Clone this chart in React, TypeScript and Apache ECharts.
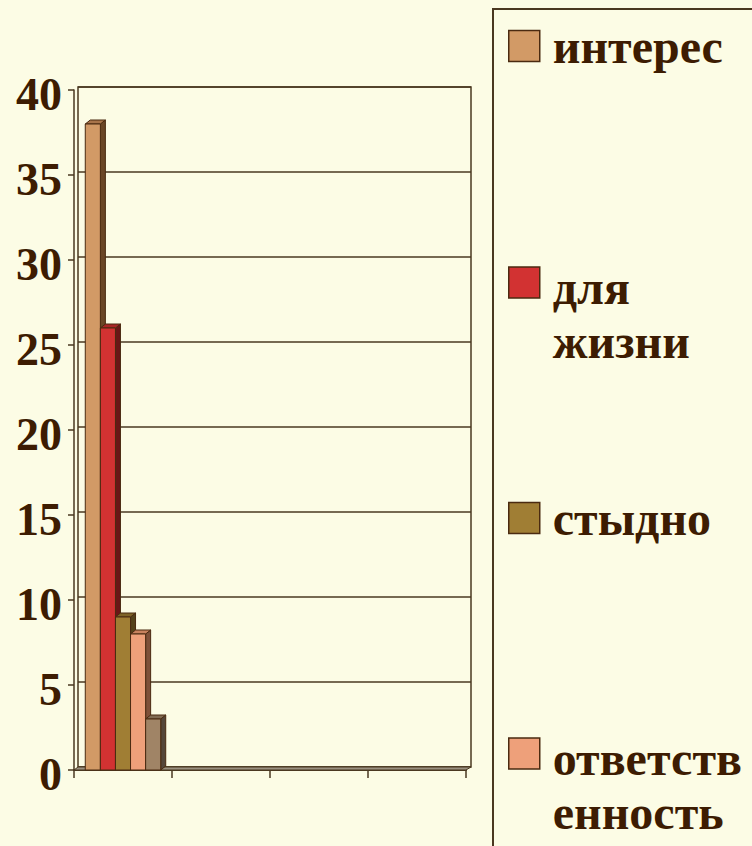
import React, { useEffect, useRef } from "react";
import * as echarts from "echarts";

const categories = ["1", "2", "3", "4"];
const seriesNames = ["интерес", "для жизни", "стыдно", "ответственность", "другое"];
const values = [38, 26, 9, 8, 3];
const yTicks = [0, 5, 10, 15, 20, 25, 30, 35, 40];

const frontColors = ["#D29A66", "#D23232", "#A07E34", "#EEA07A", "#A08466"];
const topColors = ["#A8744A", "#A82626", "#7E6428", "#C8825E", "#806A52"];
const sideColors = ["#6A4626", "#6A1616", "#54421A", "#7E5038", "#54463A"];

const BG = "#FCFCE5";
const LINE = "#4A3820";
const TEXT = "#3D1C02";
const EDGE = "#4A2A10";
const DX = 5;
const DY = 4;

export default function App() {
  const ref = useRef<HTMLDivElement>(null);
  useEffect(() => {
    if (!ref.current) return;
    const chart = echarts.init(ref.current, null, { renderer: "svg" });
    const nSeries = seriesNames.length;

    const renderItem = (params: any, api: any) => {
      const idx = params.seriesIndex;
      const v = api.value(1);
      const cat = api.value(0);
      const base = api.coord([cat, 0]);
      const top = api.coord([cat, v]);
      const catW = api.size([1, 0])[0];
      const groupW = catW * 0.77;
      const barW = groupW / nSeries;
      const x0 = base[0] - groupW / 2 + idx * barW;
      const x1 = x0 + barW;
      const yb = base[1];
      const yt = top[1];
      return {
        type: "group",
        children: [
          {
            type: "polygon",
            shape: { points: [[x1, yt], [x1 + DX, yt - DY], [x1 + DX, yb - DY], [x1, yb]] },
            style: { fill: sideColors[idx], stroke: EDGE, lineWidth: 1 },
          },
          {
            type: "polygon",
            shape: { points: [[x0, yt], [x0 + DX, yt - DY], [x1 + DX, yt - DY], [x1, yt]] },
            style: { fill: topColors[idx], stroke: EDGE, lineWidth: 1 },
          },
          {
            type: "rect",
            shape: { x: x0, y: yt, width: barW, height: yb - yt },
            style: { fill: frontColors[idx], stroke: EDGE, lineWidth: 1 },
          },
        ],
      };
    };

    const fontBase = {
      fontFamily: "Liberation Serif",
      fontWeight: "bold" as const,
      fontSize: 48,
      color: TEXT,
    };

    const twoLine: Record<string, [string, string]> = {
      "для жизни": ["для", "жизни"],
      "ответственность": ["ответств", "енность"],
    };

    const legendItem = (name: string, top: number) => ({
      show: true,
      orient: "vertical",
      left: 508,
      top,
      padding: 0,
      itemWidth: 31,
      itemHeight: 31,
      selectedMode: false,
      icon: "rect",
      itemStyle: { borderColor: EDGE, borderWidth: 1.5 },
      data: [name],
      formatter: (n: string) =>
        twoLine[n] ? `{e| }\n{t|${twoLine[n][0]}}\n{t|${twoLine[n][1]}}` : `{s|${n}}`,
      textStyle: {
        ...fontBase,
        padding: [0, 0, 0, 8],
        rich: {
          e: { ...fontBase, fontSize: 10, lineHeight: 64 },
          t: { ...fontBase, lineHeight: 54 },
          s: { ...fontBase, lineHeight: 58 },
        },
      },
    });

    chart.setOption({
      animation: false,
      backgroundColor: BG,
      grid: [
        { left: 74, top: 90, width: 392, height: 680, show: false },
        { left: 78, top: 87, width: 393, height: 680, show: true, borderColor: LINE, borderWidth: 1.5, backgroundColor: "transparent" },
      ],
      xAxis: [
        {
          type: "category",
          gridIndex: 0,
          data: categories,
          axisLine: { show: true, lineStyle: { color: LINE, width: 2 } },
          axisTick: { show: true, length: 8, lineStyle: { color: LINE, width: 1.5 } },
          axisLabel: { show: false },
          splitLine: { show: false },
        },
        {
          type: "category",
          gridIndex: 1,
          data: categories,
          show: false,
        },
      ],
      yAxis: [
        {
          type: "value",
          gridIndex: 0,
          min: 0,
          max: 40,
          interval: 5,
          axisLine: { show: true, lineStyle: { color: LINE, width: 1.5 } },
          axisTick: { show: true, length: 6, lineStyle: { color: LINE, width: 1.5 } },
          splitLine: { show: false },
          axisLabel: {
            show: true,
            margin: 12,
            fontFamily: "Liberation Serif",
            fontWeight: "bold",
            fontSize: 46,
            lineHeight: 8,
            color: TEXT,
            formatter: (val: number) => (yTicks.includes(val) ? "\n" + String(val) : ""),
          },
        },
        {
          type: "value",
          gridIndex: 1,
          min: 0,
          max: 40,
          interval: 5,
          axisLine: { show: false },
          axisTick: { show: false },
          axisLabel: { show: false },
          splitLine: { show: true, lineStyle: { color: LINE, width: 1.5 } },
        },
      ],
      legend: [
        legendItem(seriesNames[0], 22),
        legendItem(seriesNames[1], 223.5),
        legendItem(seriesNames[2], 494),
        legendItem(seriesNames[3], 694.5),
      ],
      graphic: [
        {
          type: "rect",
          shape: { x: 493, y: 9, width: 400, height: 900 },
          style: { fill: "none", stroke: LINE, lineWidth: 2 },
          silent: true,
        },
        {
          type: "polygon",
          shape: { points: [[74, 770], [78, 767], [471, 767], [466, 770]] },
          style: { fill: "#9A9080", stroke: LINE, lineWidth: 1 },
          silent: true,
          z: 1,
        },
      ],
      series: seriesNames.map((name, i) => ({
        name,
        type: "custom",
        xAxisIndex: 0,
        yAxisIndex: 0,
        clip: false,
        itemStyle: { color: frontColors[i] },
        renderItem,
        data: [[0, values[i]]],
        z: 3,
      })),
    });
    return () => chart.dispose();
  }, []);
  return (
    <div
      ref={ref}
      style={{ position: "absolute", left: 0, top: 0, width: 752, height: 846 }}
    />
  );
}
